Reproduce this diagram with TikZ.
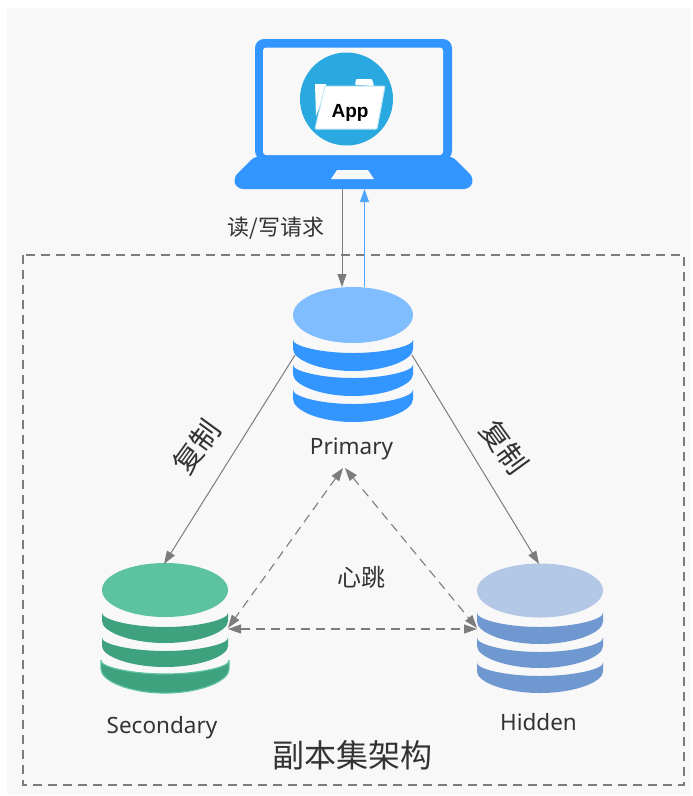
\documentclass[tikz,border=0pt]{standalone}
\usepackage{fontspec}
\setmainfont{Noto Sans}
\newfontfamily\cjk{Noto Sans CJK SC}
\newfontfamily\appfont{Liberation Sans}
\usetikzlibrary{arrows.meta,calc}
\definecolor{blueT}{HTML}{80BDFF}
\definecolor{blueB}{HTML}{3395FF}
\definecolor{greenT}{HTML}{5CC2A0}
\definecolor{greenB}{HTML}{3FA27F}
\definecolor{hidT}{HTML}{B3C7E6}
\definecolor{hidB}{HTML}{6F98D1}
\definecolor{conn}{HTML}{7C7C7C}
\definecolor{bg}{HTML}{F8F8F8}
\definecolor{ink}{HTML}{333333}
\definecolor{appc}{HTML}{29A9E0}
\tikzset{
  link/.style={draw=conn,line width=1pt,-{Triangle[length=13pt,width=9pt]}},
  hb/.style={draw=conn,line width=1.1pt,dash pattern=on 9pt off 6pt,{Triangle[length=13pt,width=9pt]}-{Triangle[length=13pt,width=9pt]}},
  lbl/.style={text=ink,inner sep=0pt,font=\fontsize{22.5}{26}\selectfont},
  cjklbl/.style={text=ink,inner sep=0pt,font=\cjk\fontsize{22}{26}\selectfont},
  dbbox/.style={inner sep=0pt,minimum width=125pt,minimum height=132pt}
}
% #1 cx, #2 rx, #3 side-top y, #4 inner ry, #5 band height at the sides, #6 colour
\newcommand{\band}[6]{%
  \path[fill=#6,rounded corners=3pt] (#1-#2,#3) arc[start angle=180,end angle=360,x radius=#2,y radius=#4] -- ++(0,-#5) arc[start angle=360,end angle=180,x radius=#2,y radius=#4+#5] -- cycle;}
\begin{document}
\begin{tikzpicture}[x=1pt,y=1pt]
\useasboundingbox (0,-796) rectangle (693,0);
\fill[white] (0,-796) rectangle (693,0);
\fill[bg] (7,-795) rectangle (691,-8);
\draw[conn,line width=1.1pt,dash pattern=on 9pt off 6pt] (23,-255) rectangle (684,-785);

% laptop
\node[inner sep=0pt,minimum width=237pt,minimum height=150pt] (laptop) at (353.5,-114) {};
\fill[blueB,rounded corners=9pt] (255,-160) -- (255,-39) -- (452,-39) -- (452,-160) -- cycle;
\fill[blueB,rounded corners=6pt] (255,-156) -- (233,-178) -- (237,-189) -- (470,-189) -- (474,-178) -- (452,-156) -- cycle;
\fill[bg,rounded corners=3pt] (263,-155) -- (263,-47.5) -- (443,-47.5) -- (443,-155) -- cycle;
\fill[bg] (337,-170) -- (368,-170) -- (374,-179) -- (331,-179) -- cycle;
\fill[appc] (346.5,-99) circle[radius=46.5];
\fill[white,rounded corners=1pt] (355,-85) -- (356,-79) -- (372,-79) -- (374,-86) -- cycle;
\fill[white] (315,-84) -- (326,-84) -- (326,-90) -- (316,-116) -- cycle;
\draw[white!70!appc,line width=1pt,fill=white,rounded corners=1pt] (325,-86) -- (385,-86) -- (377,-129) -- (315,-129) -- cycle;
\node[inner sep=0pt,text=black,font=\appfont\bfseries\fontsize{19}{21}\selectfont] (applabel) at (350,-112.5) {App};

% databases
\node[dbbox] (primary) at (353,-354.5) {};
\fill[blueT] (353,-315) ellipse[x radius=60,y radius=28];
\band{353}{60}{-337}{16}{9}{blueB}
\band{353}{60}{-362}{16}{9}{blueB}
\band{353}{60}{-387}{17}{9}{blueB}

\node[dbbox] (secondary) at (165,-628.5) {};
\fill[greenT] (165,-590) ellipse[x radius=63,y radius=27];
\band{165}{63}{-610}{17}{8}{greenB}
\band{165}{63}{-635}{16}{8}{greenB}
\path[draw=greenT,line width=1.2pt,fill=greenB,rounded corners=3pt] (101,-658) arc[start angle=180,end angle=360,x radius=64,y radius=16] -- ++(0,-8) arc[start angle=360,end angle=180,x radius=64,y radius=27] -- cycle;

\node[dbbox] (hidden) at (540,-628.5) {};
\fill[hidT] (540,-590.5) ellipse[x radius=63,y radius=27];
\band{540}{63}{-610}{17}{8.5}{hidB}
\band{540}{63}{-635}{17}{8}{hidB}
\band{540}{63}{-660}{16}{8.5}{hidB}

% connector ends
\coordinate (lapA) at (342,-189);
\coordinate (priA) at (342,-287);
\coordinate (lapB) at (364.5,-189);
\coordinate (priB) at (364.5,-287);
\coordinate (priL) at (295,-355);
\coordinate (secT) at (164,-564);
\coordinate (priR) at (412,-355);
\coordinate (hidE) at (539,-564);
\coordinate (apexL) at (343,-468);
\coordinate (apexR) at (345,-468);
\coordinate (secR) at (228,-628);
\coordinate (secRb) at (228,-629);
\coordinate (hidL) at (477,-628);
\coordinate (hidLb) at (477,-629);

\draw[link] (lapA) -- (priA);
\draw[draw=blueB!85!white,line width=1pt,-{Triangle[length=13pt,width=9pt]}] (priB) -- (lapB);
\draw[link] (priL) -- (secT);
\draw[link] (priR) -- (hidE);
\draw[hb] (apexL) -- (secR);
\draw[hb] (apexR) -- (hidL);
\draw[hb] (secRb) -- (hidLb);

% labels
\node[cjklbl] (rw) at (276,-228) {读/写请求};
\node[cjklbl,font=\cjk\fontsize{29}{32}\selectfont,rotate=54] (repL) at (197,-447) {复制};
\node[cjklbl,font=\cjk\fontsize{29}{32}\selectfont,rotate=-54] (repR) at (504,-447) {复制};
\node[cjklbl,font=\cjk\fontsize{24}{28}\selectfont] (hbt) at (361.5,-577) {心跳};
\node[lbl] (tp) at (351.5,-449) {Primary};
\node[lbl] (ts) at (162,-728) {Secondary};
\node[lbl] (th) at (538.5,-722) {Hidden};
\node[cjklbl,font=\cjk\fontsize{32}{36}\selectfont] (title) at (352,-755) {副本集架构};
\end{tikzpicture}
\end{document}
